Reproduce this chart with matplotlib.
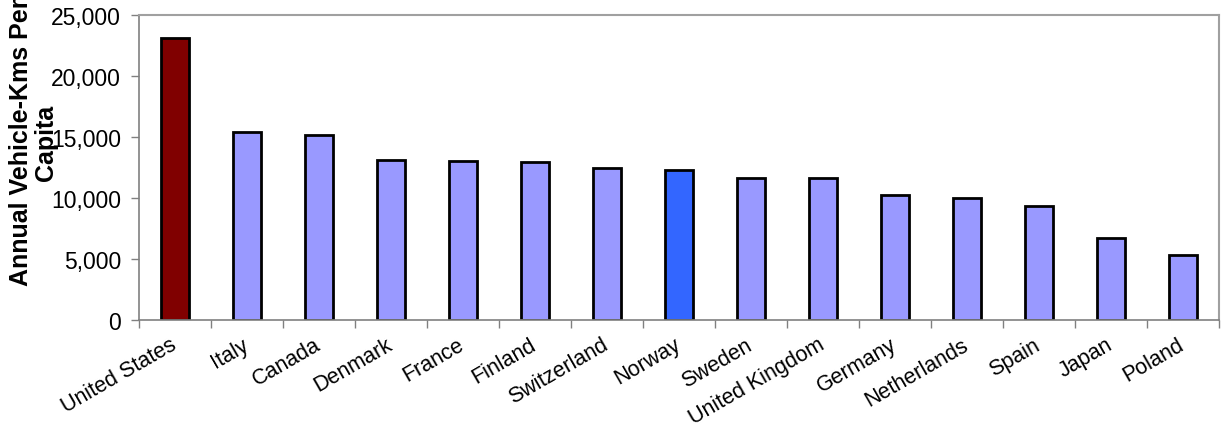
import numpy as np
import matplotlib.pyplot as plt
import matplotlib.transforms as mtransforms
from matplotlib.ticker import FuncFormatter

plt.rcParams['font.family'] = ['Liberation Sans', 'DejaVu Sans']

countries = ['United States', 'Italy', 'Canada', 'Denmark', 'France', 'Finland',
             'Switzerland', 'Norway', 'Sweden', 'United Kingdom', 'Germany',
             'Netherlands', 'Spain', 'Japan', 'Poland']
vkm_per_capita = [23100, 15430, 15190, 13090, 13010, 12930, 12430, 12300,
                  11640, 11640, 10230, 9970, 9320, 6700, 5330]
bar_colors = ['#800000'] + ['#9999FF'] * 6 + ['#3366FF'] + ['#9999FF'] * 7

fig = plt.figure(figsize=(12.22, 4.27), dpi=100)
ax = fig.add_axes([0.1137, 0.2482, 0.8838, 0.7143])

x = np.arange(len(countries))
ax.bar(x, vkm_per_capita, width=0.4, color=bar_colors, edgecolor='black', linewidth=2)

ax.set_xlim(-0.5, len(countries) - 0.5)
ax.set_ylim(0, 25000)
ax.set_yticks(np.arange(0, 25001, 5000))
ax.yaxis.set_major_formatter(FuncFormatter(lambda v, p: f'{v:,.0f}'))
ax.tick_params(axis='y', labelsize=16.5, length=6, width=1, color='#808080', pad=7)

# category labels in the middle, tick marks between categories
ax.set_xticks(x)
ax.set_xticklabels(countries, rotation=30, ha='right', va='top', fontsize=15.5)
ax.tick_params(axis='x', which='major', length=0, pad=10)
ax.set_xticks(np.arange(-0.5, len(countries)), minor=True)
ax.tick_params(axis='x', which='minor', length=6, width=1, color='#808080')

# nudge the slanted labels a little to the right
shift = mtransforms.ScaledTranslation(5 / 100, 0, fig.dpi_scale_trans)
for lbl in ax.get_xticklabels():
    lbl.set_transform(lbl.get_transform() + shift)

for side in ['left', 'bottom']:
    ax.spines[side].set_color('#808080')
    ax.spines[side].set_linewidth(1.2)
for side in ['top', 'right']:
    ax.spines[side].set_color('#a0a0a0')
    ax.spines[side].set_linewidth(1.5)

ax.set_ylabel('Annual Vehicle-Kms Per\nCapita', fontsize=18, fontweight='bold',
              linespacing=1.05, va='center')
ax.yaxis.set_label_coords(-0.098, 0.585)

fig.savefig('out.png', dpi=100)
